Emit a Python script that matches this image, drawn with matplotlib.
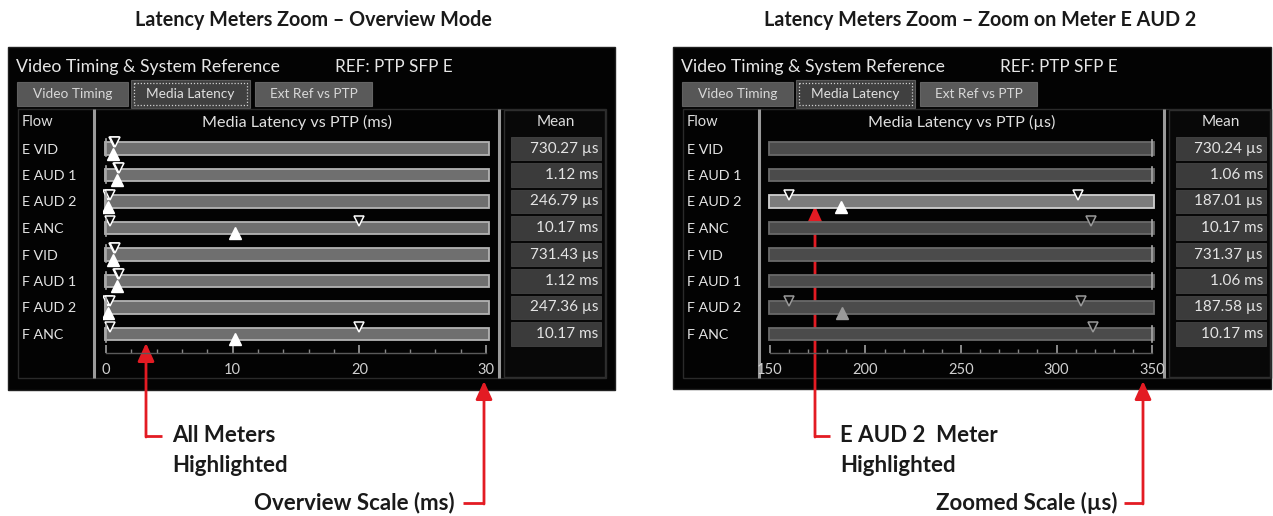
import numpy as np
import matplotlib
matplotlib.use("Agg")
import matplotlib.pyplot as plt
from matplotlib.patches import Rectangle
from matplotlib import transforms

# ---------------- data ----------------
flows = ["E VID", "E AUD 1", "E AUD 2", "E ANC", "F VID", "F AUD 1", "F AUD 2", "F ANC"]

# Overview mode (ms)
ov_min = [0.66, 0.98, 0.16, 0.30, 0.66, 0.98, 0.16, 0.30]
ov_max = [0.70, 1.02, 0.31, 20.0, 0.70, 1.02, 0.31, 20.0]
ov_mean = [0.55, 0.90, 0.12, 10.17, 0.55, 0.90, 0.12, 10.17]
ov_mean_text = ["730.27 µs", "1.12 ms", "246.79 µs", "10.17 ms",
                "731.43 µs", "1.12 ms", "247.36 µs", "10.17 ms"]
ov_ticks = [0, 10, 20, 30]
ov_minor = list(range(0, 31, 2))

# Zoom mode (µs)
zm_min = [700, 1000, 160, 318, 700, 1000, 160, 319]
zm_max = [760, 1100, 311, 20000, 760, 1100, 313, 20000]
zm_mean = [730.24, 1060, 187.01, 10170, 731.37, 1060, 187.58, 10170]
zm_mean_text = ["730.24 µs", "1.06 ms", "187.01 µs", "10.17 ms",
                "731.37 µs", "1.06 ms", "187.58 µs", "10.17 ms"]
zm_ticks = [150, 200, 250, 300, 350]
zm_minor = list(range(150, 351, 10))

# ---------------- figure ----------------
W, H = 1273, 516
fig = plt.figure(figsize=(W / 100, H / 100), dpi=100)
fig.patch.set_facecolor("white")
ov = fig.add_axes([0, 0, 1, 1])
ov.set_xlim(0, W)
ov.set_ylim(H, 0)
ov.axis("off")

UI = "Lato"
RED = "#e31b23"


def rect(x0, y0, x1, y1, **kw):
    ov.add_patch(Rectangle((x0, y0), x1 - x0, y1 - y0, **kw))


ROW0, ROWH = 148.5, 26.5
BASE = 353.0


def panel(ox, right, bottom, unit, mins, maxs, means, mean_text, ticks, minor,
          lo, hi, pxlo, pxhi, highlight, right_bracket):
    rect(ox + 8, 47, right, bottom, facecolor="#030303", edgecolor="#202020", lw=1)
    ov.text(ox + 16, 67, "Video Timing & System Reference", color="#e6e6e6",
            fontsize=12.7, family=UI, va="center", ha="left")
    ov.text(ox + 335, 67, "REF: PTP SFP E", color="#e6e6e6", fontsize=12.3,
            family=UI, va="center", ha="left")
    # tabs
    rect(ox + 17, 82, ox + 128, 106, facecolor="#575757", edgecolor="#606060", lw=0.8)
    ov.text(ox + 72.5, 94.5, "Video Timing", color="#d8d8d8", fontsize=9.8,
            family=UI, ha="center", va="center")
    rect(ox + 131, 80, ox + 250, 108, facecolor="#404040", edgecolor="#5a5a5a", lw=0.8)
    rect(ox + 134, 83, ox + 247, 105, facecolor="none", edgecolor="#d0d0d0",
         lw=0.9, linestyle=(0, (1, 1.5)))
    ov.text(ox + 190.5, 93.5, "Media Latency", color="#e0e0e0", fontsize=9.8,
            family=UI, ha="center", va="center")
    rect(ox + 255, 82, ox + 372, 106, facecolor="#5a5a5a", edgecolor="#646464", lw=0.8)
    ov.text(ox + 313.5, 94.5, "Ext Ref vs PTP", color="#d8d8d8", fontsize=9.8,
            family=UI, ha="center", va="center")
    # frames
    rect(ox + 18, 109, ox + 606, 378, facecolor="none", edgecolor="#2a2a2a", lw=1)
    rect(ox + 504, 110, ox + 605, 377, facecolor="#080808", edgecolor="#2e2e2e", lw=1)
    ov.plot([ox + 94, ox + 94], [109, 378], color="#9a9a9a", lw=2.2, solid_capstyle="butt")
    ov.plot([ox + 499, ox + 499], [109, 378], color="#9a9a9a", lw=2.2, solid_capstyle="butt")
    ov.text(ox + 22, 122, "Flow", color="#dddddd", fontsize=10.5, family=UI,
            ha="left", va="center")
    ov.text(ox + 296.5, 122, f"Media Latency vs PTP ({unit})", color="#e0e0e0",
            fontsize=11.6, family=UI, ha="center", va="center")
    ov.text(ox + 556, 122, "Mean", color="#dddddd", fontsize=11, family=UI,
            ha="center", va="center")

    # meter axes
    n = len(flows)
    yt = -0.62
    yb = (BASE - ROW0) / ROWH
    ptop = ROW0 + yt * ROWH
    ax = fig.add_axes([pxlo / W, 1 - BASE / H, (pxhi - pxlo) / W, (BASE - ptop) / H])
    ax.set_facecolor("none")
    ax.set_xlim(lo, hi)
    ax.set_ylim(yb, yt)
    rows = np.arange(n)
    span = hi - lo
    tlo, thi = lo + span * 0.003, hi - span * 0.002
    fills = ["#7c7c7c" if highlight[i] else "#4b4b4b" for i in rows]
    edges = ["#d0d0d0" if highlight[i] else "#6a6a6a" for i in rows]
    if all(highlight):
        fills = ["#6f6f6f"] * n
        edges = ["#b4b4b4"] * n
    ax.barh(rows, thi - tlo, left=tlo, height=0.46, color=fills, edgecolor=edges, lw=1.3)

    a0, a1 = ticks[0], ticks[-1]
    for i in rows:
        mcol = "#ffffff" if highlight[i] else "#9a9a9a"
        for v in (mins[i], maxs[i]):
            if a0 - 1e-9 <= v <= a1:
                ax.plot(v, i - 0.25, marker="v", ms=7.5, mfc="#101010", mec=mcol,
                        mew=1.1, ls="none", zorder=5)
        if a0 <= means[i] <= a1:
            ax.plot(means[i], i + 0.2, marker="^", ms=8, mfc=mcol, mec=mcol,
                    ls="none", zorder=6)
        if right_bracket and maxs[i] > a1:
            ax.plot([a1, a1], [i - 0.32, i + 0.3], color="#a8a8a8", lw=1.2, zorder=5)
        if not right_bracket:
            ax.plot([a0, a0], [i - 0.34, i + 0.3], color="#a8a8a8", lw=1.2, zorder=5)

    # axes styling: scale ticks and row labels
    for s in ("top", "right", "left"):
        ax.spines[s].set_visible(False)
    ax.spines["bottom"].set_bounds(a0, a1)
    ax.spines["bottom"].set_color("#5a5a5a")
    ax.spines["bottom"].set_linewidth(1)
    ax.set_xticks(ticks)
    ax.set_xticks(minor, minor=True)
    ax.set_xticklabels([str(t) for t in ticks], family=UI, fontsize=10.5, color="#d0d0d0")
    ax.tick_params(axis="x", which="major", direction="in", length=6, width=1.2,
                   color="#a0a0a0", pad=7)
    ax.tick_params(axis="x", which="minor", direction="in", length=3, width=1,
                   color="#8a8a8a")
    ax.set_yticks(rows)
    ax.set_yticklabels(flows, family=UI, fontsize=10.3, color="#e4e4e4")
    pad_pts = (pxlo - (ox + 22)) * 72 / 100
    ax.tick_params(axis="y", length=0, pad=pad_pts)
    for lab in ax.get_yticklabels():
        lab.set_horizontalalignment("left")

    # mean boxes
    tr = transforms.blended_transform_factory(ov.transData, ax.transData)
    for i in rows:
        ov.add_patch(Rectangle((ox + 511, i - 0.45), 90, 0.9, transform=tr,
                               facecolor="#3b3b3b", edgecolor="#444444", lw=0.6,
                               clip_on=False))
        ov.text(ox + 598, i, mean_text[i], transform=tr, color="#e4e4e4",
                fontsize=11, family=UI, ha="right", va="center")
    return ax


# left: overview, 0..30 ms mapped to px 106..486
ppu_l = (486 - 106) / 30
panel(0, 615, 390, "ms", ov_min, ov_max, ov_mean, ov_mean_text, ov_ticks, ov_minor,
      -0.2, 30.3, 106 - 0.2 * ppu_l, 106 + 30.3 * ppu_l,
      [True] * 8, False)

# right: zoom, 150..350 µs mapped to px 770..1152
ppu_r = (1152 - 770) / 200
panel(665, 1271, 389, "µs", zm_min, zm_max, zm_mean, zm_mean_text, zm_ticks, zm_minor,
      148.8, 351.7, 770 - 1.2 * ppu_r, 770 + 201.7 * ppu_r,
      [i == 2 for i in range(8)], True)

# titles
ov.text(313, 20, "Latency Meters Zoom \u2013 Overview Mode", fontsize=14.2,
        fontweight="bold", family=UI, color="#1a1a1a", ha="center", va="center")
ov.text(980, 20, "Latency Meters Zoom \u2013 Zoom on Meter E AUD 2", fontsize=14.2,
        fontweight="bold", family=UI, color="#1a1a1a", ha="center", va="center")


# annotations
def arrow(x, ytip, ybot, xend):
    ov.plot([x, xend], [ybot, ybot], color=RED, lw=2, solid_capstyle="butt", zorder=20)
    ov.annotate("", xy=(x, ytip), xytext=(x, ybot + 1), zorder=20,
                arrowprops=dict(arrowstyle="-|>,head_length=1.1,head_width=0.5",
                                color=RED, lw=2, shrinkA=0, shrinkB=0))


AF = 16
arrow(146, 343, 436, 162)
ov.text(172, 436, "All Meters", fontsize=AF, fontweight="bold", family=UI,
        color="#1a1a1a", ha="left", va="center")
ov.text(172, 465, "Highlighted", fontsize=AF, fontweight="bold", family=UI,
        color="#1a1a1a", ha="left", va="center")
arrow(484, 381, 503, 463)
ov.text(455, 503, "Overview Scale (ms)", fontsize=AF, fontweight="bold", family=UI,
        color="#1a1a1a", ha="right", va="center")

arrow(815, 206, 436, 830)
ov.text(840, 436, "E AUD 2  Meter", fontsize=AF, fontweight="bold", family=UI,
        color="#1a1a1a", ha="left", va="center")
ov.text(840, 465, "Highlighted", fontsize=AF, fontweight="bold", family=UI,
        color="#1a1a1a", ha="left", va="center")
arrow(1143, 381, 503, 1124)
ov.text(1117, 503, "Zoomed Scale (µs)", fontsize=AF, fontweight="bold", family=UI,
        color="#1a1a1a", ha="right", va="center")

fig.savefig("out.png", dpi=100, facecolor="white")
